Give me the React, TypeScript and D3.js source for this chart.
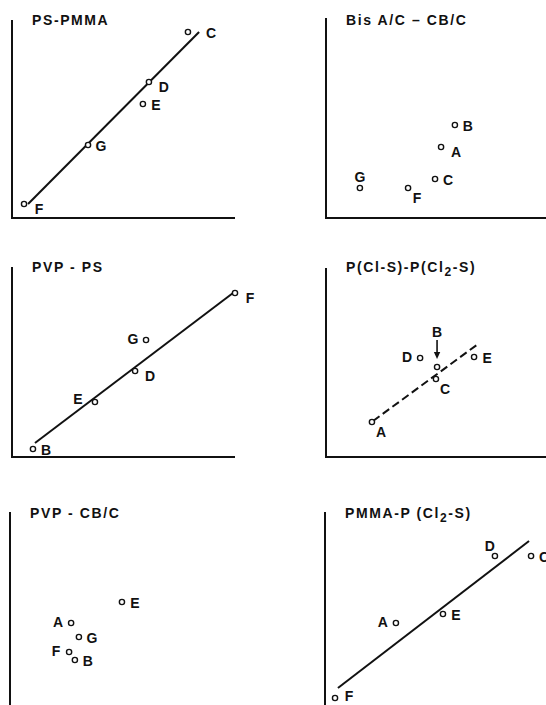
import React from 'react';
import * as d3 from 'd3';

// ---- PS-PMMA ----
const psPmmaLabels = ['C', 'D', 'E', 'G', 'F'];
const psPmmaX = [78.9, 61.4, 58.7, 34.1, 5.4];
const psPmmaY = [93, 68, 57, 36.5, 7];
const psPmmaFitX = [7.2, 83.9];
const psPmmaFitY = [7, 93];

// ---- Bis A/C - CB/C ----
const bisLabels = ['B', 'A', 'C', 'G', 'F'];
const bisX = [57.8, 51.6, 48.9, 15.2, 36.8];
const bisY = [46.5, 35.5, 19.5, 15, 15];

// ---- PVP - PS ----
const pvpPsLabels = ['F', 'G', 'D', 'E', 'B'];
const pvpPsX = [100, 60.1, 55.2, 37.2, 9.4];
const pvpPsY = [82, 58.5, 43, 27.5, 4];
const pvpPsFitX = [10.3, 99.1];
const pvpPsFitY = [7, 82];

// ---- P(Cl-S) - P(Cl2-S) ----
const clsLabels = ['B', 'C', 'D', 'E', 'A'];
const clsX = [49.8, 49.3, 42.2, 66.4, 20.6];
const clsY = [45, 39, 49.5, 50, 17.5];
const clsFitX = [21.1, 68.2];
const clsFitY = [18, 56.5];

// ---- PVP - CB/C ----
const pvpCbLabels = ['E', 'A', 'G', 'F', 'B'];
const pvpCbX = [50.2, 27.4, 30.9, 26.5, 29.1];
const pvpCbY = [55, 44.5, 37.5, 30, 26];

// ---- PMMA - P(Cl2-S) ----
const pmmaClLabels = ['C', 'D', 'E', 'A', 'F'];
const pmmaClX = [92.4, 76.2, 52.9, 31.8, 4.5];
const pmmaClY = [78, 78, 49, 44.5, 7];
const pmmaClFitX = [5.8, 91.5];
const pmmaClFitY = [12, 85.5];

// label placement: centre offset of the letter from its point
const LABEL_OFFSET: Record<string, [number, number]> = {
  r: [13, 1],
  ru: [14, -2],
  rd: [15, 5],
  rf: [23, 1],
  rb: [9, 10],
  l: [-13, -1],
  lu: [-17, -3],
  a: [0, -11],
  al: [-5, -10],
  arrow: [0, -35],
};

type Panel = {
  title: { t: string; sub?: boolean }[];
  labels: string[];
  xs: number[];
  ys: number[];
  place: string[];
  fitX?: number[];
  fitY?: number[];
  dashed?: boolean;
  ox: number;
  oy: number;
  yTop: number;
  titleY: number;
};

const panels: Panel[] = [
  {
    title: [{ t: 'PS-PMMA' }],
    labels: psPmmaLabels, xs: psPmmaX, ys: psPmmaY,
    place: ['rf', 'rd', 'r', 'r', 'rd'],
    fitX: psPmmaFitX, fitY: psPmmaFitY,
    ox: 12, oy: 218, yTop: 99, titleY: 25,
  },
  {
    title: [{ t: 'Bis A/C – CB/C' }],
    labels: bisLabels, xs: bisX, ys: bisY,
    place: ['r', 'rd', 'r', 'a', 'rb'],
    ox: 326, oy: 218, yTop: 100, titleY: 25,
  },
  {
    title: [{ t: 'PVP - PS' }],
    labels: pvpPsLabels, xs: pvpPsX, ys: pvpPsY,
    place: ['rd', 'l', 'rd', 'lu', 'r'],
    fitX: pvpPsFitX, fitY: pvpPsFitY,
    ox: 12, oy: 457, yTop: 95, titleY: 272,
  },
  {
    title: [{ t: 'P(Cl-S)-P(Cl' }, { t: '2', sub: true }, { t: '-S)' }],
    labels: clsLabels, xs: clsX, ys: clsY,
    place: ['arrow', 'rb', 'l', 'r', 'rb'],
    fitX: clsFitX, fitY: clsFitY, dashed: true,
    ox: 326, oy: 457, yTop: 94.5, titleY: 272,
  },
  {
    title: [{ t: 'PVP - CB/C' }],
    labels: pvpCbLabels, xs: pvpCbX, ys: pvpCbY,
    place: ['r', 'l', 'r', 'l', 'r'],
    ox: 10, oy: 712, yTop: 100, titleY: 518,
  },
  {
    title: [{ t: 'PMMA-P (Cl' }, { t: '2', sub: true }, { t: '-S)' }],
    labels: pmmaClLabels, xs: pmmaClX, ys: pmmaClY,
    place: ['r', 'al', 'r', 'l', 'ru'],
    fitX: pmmaClFitX, fitY: pmmaClFitY,
    ox: 325, oy: 712, yTop: 100, titleY: 518,
  },
];

const FONT = "'Liberation Sans', Arial, Helvetica, sans-serif";
const INK = '#111';

function PanelView({ p }: { p: Panel }) {
  const x = d3.scaleLinear().domain([0, 100]).range([p.ox, p.ox + 223]);
  const y = d3.scaleLinear().domain([0, 100]).range([p.oy, p.oy - 200]);
  const line = d3.line<[number, number]>().x((d) => x(d[0])).y((d) => y(d[1]));
  const fit =
    p.fitX && p.fitY
      ? line([
          [p.fitX[0], p.fitY[0]],
          [p.fitX[1], p.fitY[1]],
        ])
      : null;

  return (
    <g>
      {/* axes */}
      <line x1={x(0)} x2={x(0)} y1={y(0) + 1} y2={y(p.yTop)} stroke={INK} strokeWidth={2} />
      <line x1={x(0) - 1} x2={x(100)} y1={y(0)} y2={y(0)} stroke={INK} strokeWidth={2} />

      {/* title */}
      <text
        x={p.ox + 20}
        y={p.titleY}
        fontFamily={FONT}
        fontWeight="bold"
        fontSize={14}
        letterSpacing={1.6}
        fill={INK}
      >
        {p.title.map((s, i) =>
          s.sub ? (
            <tspan key={i} dy={4} fontSize={12}>
              {s.t}
            </tspan>
          ) : (
            <tspan key={i} dy={i > 0 && p.title[i - 1].sub ? -4 : 0}>
              {s.t}
            </tspan>
          )
        )}
      </text>

      {/* fitted line */}
      {fit && (
        <path
          d={fit}
          fill="none"
          stroke={INK}
          strokeWidth={2}
          strokeDasharray={p.dashed ? '8,4' : undefined}
        />
      )}

      {/* points and letters */}
      {p.labels.map((lab, i) => {
        const cx = x(p.xs[i]);
        const cy = y(p.ys[i]);
        const [dx, dy] = LABEL_OFFSET[p.place[i]];
        const isArrow = p.place[i] === 'arrow';
        return (
          <g key={lab}>
            <circle cx={cx} cy={cy} r={2.6} fill="#fff" stroke={INK} strokeWidth={1.4} />
            <text
              x={cx + dx}
              y={cy + dy + 5}
              textAnchor="middle"
              fontFamily={FONT}
              fontWeight="bold"
              fontSize={14}
              fill={INK}
            >
              {lab}
            </text>
            {isArrow && (
              <g>
                <line x1={cx} x2={cx} y1={cy - 27} y2={cy - 14} stroke={INK} strokeWidth={1.6} />
                <path
                  d={`M${cx - 3.2},${cy - 15} L${cx + 3.2},${cy - 15} L${cx},${cy - 8} Z`}
                  fill={INK}
                />
              </g>
            )}
          </g>
        );
      })}
    </g>
  );
}

export default function App() {
  return (
    <svg
      width={546}
      height={705}
      viewBox="0 0 546 705"
      style={{ position: 'absolute', left: 0, top: 0, background: '#fff' }}
    >
      <rect width={546} height={705} fill="#fff" />
      {panels.map((p, i) => (
        <PanelView key={i} p={p} />
      ))}
    </svg>
  );
}
